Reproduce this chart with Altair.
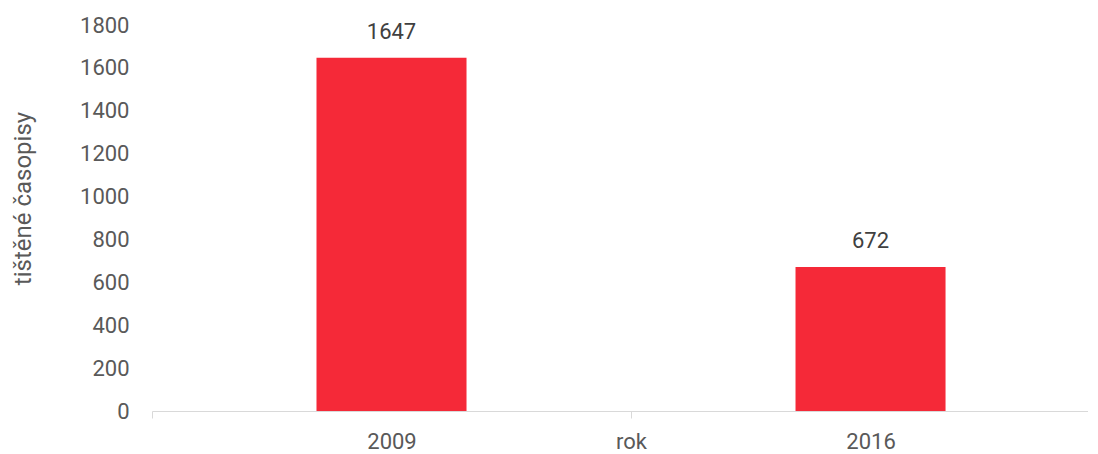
import altair as alt
import pandas as pd

years = ["2009", "2016"]
values = [1647, 672]
y_ticks = [0, 200, 400, 600, 800, 1000, 1200, 1400, 1600, 1800]
x_title = "rok"
y_title = "tištěné časopisy"

half = 0.1566
df = pd.DataFrame({
    "rok": years,
    "value": values,
    "pos": [i + 0.5 for i in range(len(years))],
})
df["x0"] = df["pos"] - half
df["x1"] = df["pos"] + half

label_expr = " : ".join(
    [f"datum.value == {i + 0.5} ? '{y}'" for i, y in enumerate(years)]
    + [f"datum.value == 1 ? '{x_title}'", "''"]
)

x_scale = alt.Scale(domain=[0, 1.954], nice=False, zero=False)
y_scale = alt.Scale(domain=[0, 1800], nice=False)

FONT = "Roboto"
FS = 22

bars = alt.Chart(df).mark_bar(color="#F52938").encode(
    x=alt.X("x0:Q", scale=x_scale, title=None,
            axis=alt.Axis(values=[0, 0.5, 1, 1.5], labelExpr=label_expr,
                          grid=False, domainColor="#D9D9D9", tickColor="#D9D9D9",
                          tickSize=7,
                          tickOpacity={"condition": {"test": "datum.value % 1 != 0", "value": 0}, "value": 1},
                          labelFontSize=FS, labelColor="#595959", labelFont=FONT,
                          labelPadding=13, labelFlush=False, labelOverlap=False)),
    x2="x1:Q",
    y=alt.Y("value:Q", scale=y_scale, title=y_title,
            axis=alt.Axis(values=y_ticks, grid=False, domain=False, ticks=False,
                          format="d",
                          labelFontSize=FS, labelColor="#595959", labelFont=FONT,
                          labelPadding=23, titleFontSize=24, titleFont=FONT,
                          titleColor="#595959", titleFontWeight="normal",
                          titlePadding=44, titleY=173)),
    y2=alt.datum(0),
)

text = alt.Chart(df).mark_text(baseline="bottom", dy=-14, fontSize=FS,
                               font=FONT, color="#404040").encode(
    x=alt.X("pos:Q", scale=x_scale),
    y=alt.Y("value:Q", scale=y_scale),
    text="value:Q",
)

chart = alt.layer(bars, text).properties(
    width=936, height=386,
    autosize=alt.AutoSizeParams(type="none"),
    padding={"left": 144, "top": 17, "right": 0, "bottom": 42},
).configure_view(stroke=None)

chart.save("out.html", embed_options={"renderer": "svg", "actions": False})
